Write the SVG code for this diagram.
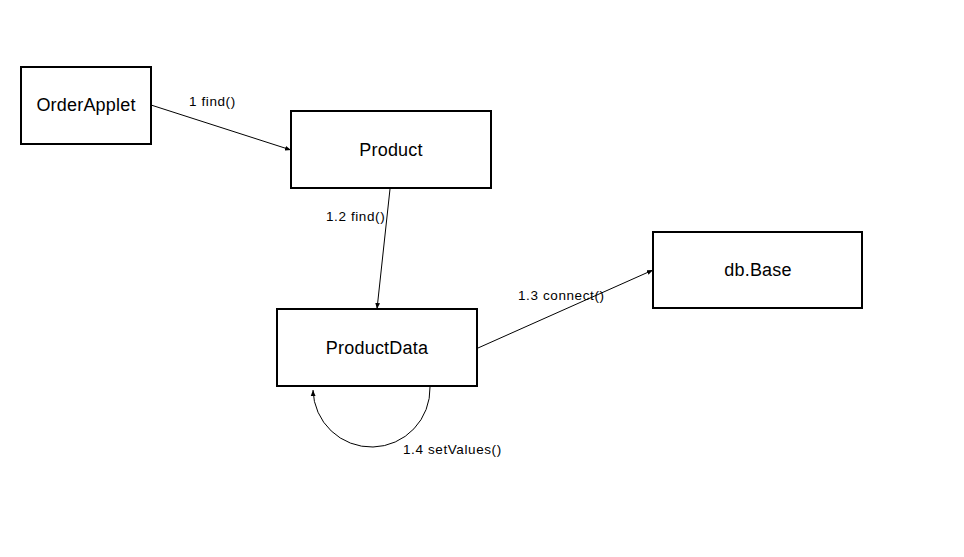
<svg xmlns="http://www.w3.org/2000/svg" width="964" height="557" viewBox="0 0 964 557">
<style>
.box{fill:#fff;stroke:#000;stroke-width:2}
.name{font-family:"Liberation Sans",Arial,sans-serif;font-size:18px;text-anchor:middle;fill:#000;letter-spacing:0.2px}
.lbl{font-family:"Liberation Sans",Arial,sans-serif;font-size:13.5px;fill:#000;letter-spacing:0.6px}
.conn{fill:none;stroke:#000;stroke-width:1}
</style>
<defs>
<marker id="arr" viewBox="0 0 10 10" refX="10" refY="5" markerWidth="6" markerHeight="6" orient="auto" markerUnits="userSpaceOnUse">
<path d="M0,1 L10,5 L0,9 z" fill="#000"/>
</marker>
</defs>
<rect width="964" height="557" fill="#fff"/>
<g id="connectors">
<line class="conn" x1="151" y1="105" x2="291" y2="150" marker-end="url(#arr)"/>
<line class="conn" x1="390" y1="189" x2="377" y2="309" marker-end="url(#arr)"/>
<line class="conn" x1="478" y1="348" x2="653" y2="270" marker-end="url(#arr)"/>
<path class="conn" d="M430,387 A58.5 58.5 0 0 1 313 390" marker-end="url(#arr)"/>
<text class="lbl" x="189" y="106">1 find()</text>
<text class="lbl" x="326" y="221">1.2 find()</text>
<text class="lbl" x="518" y="300">1.3 connect()</text>
<text class="lbl" x="403" y="454">1.4 setValues()</text>
</g>
<g id="OrderApplet">
<rect class="box" x="21" y="67" width="130" height="77"/>
<text class="name" x="86" y="111">OrderApplet</text>
</g>
<g id="Product">
<rect class="box" x="291" y="111" width="200" height="77"/>
<text class="name" x="391" y="156">Product</text>
</g>
<g id="ProductData">
<rect class="box" x="277" y="309" width="200" height="77"/>
<text class="name" x="377" y="354">ProductData</text>
</g>
<g id="dbBase">
<rect class="box" x="653" y="232" width="209" height="76"/>
<text class="name" x="758" y="276">db.Base</text>
</g>
</svg>
